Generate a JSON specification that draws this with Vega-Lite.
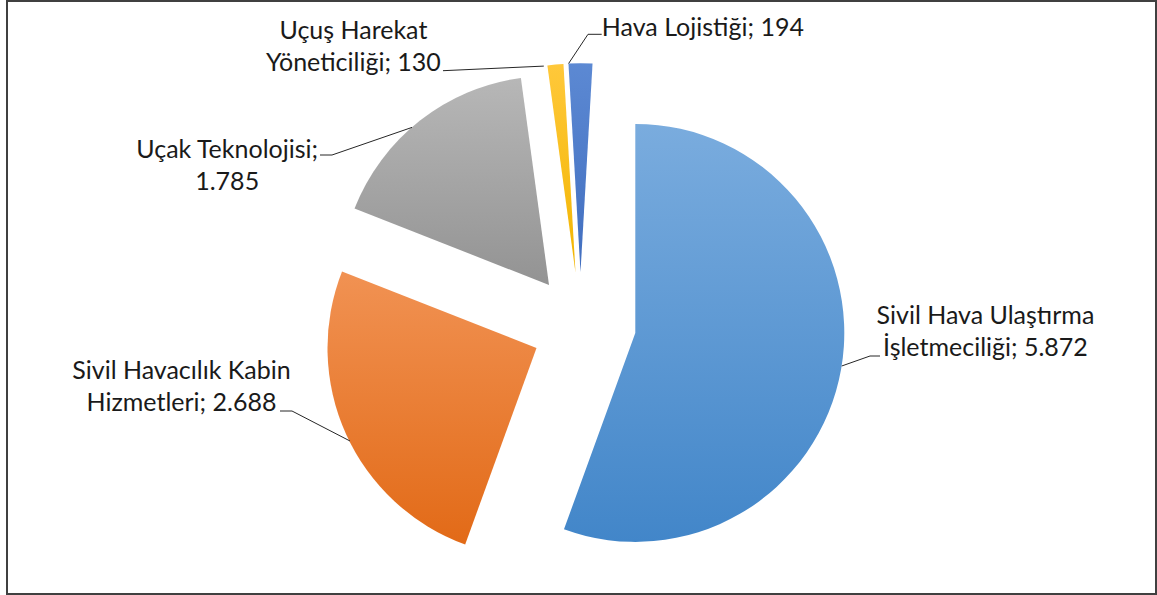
{
  "$schema": "https://vega.github.io/schema/vega-lite/v6.json",
  "width": 1157,
  "height": 595,
  "autosize": {"type": "fit", "contains": "padding"},
  "padding": {"left": 7, "top": 1, "right": 1, "bottom": 1},
  "background": "#ffffff",
  "config": {"view": {"stroke": "#404040", "strokeWidth": 2}},
  "data": {
    "values": [
      {"kategori": "Sivil Hava Ulaştırma İşletmeciliği", "deger": 5872},
      {"kategori": "Sivil Havacılık Kabin Hizmetleri", "deger": 2688},
      {"kategori": "Uçak Teknolojisi", "deger": 1785},
      {"kategori": "Uçuş Harekat Yöneticiliği", "deger": 130},
      {"kategori": "Hava Lojistiği", "deger": 194}
    ]
  },
  "transform": [
    {"stack": "deger", "groupby": [], "as": ["bas", "son"]},
    {"calculate": "(datum.bas + datum.son) / 2", "as": "orta"},
    {"calculate": "datum.kategori + '; ' + replace(format(datum.deger, ','), ',', '.')", "as": "etiket"}
  ],
  "layer": [
    {
      "transform": [{"filter": "datum.kategori === 'Sivil Hava Ulaştırma İşletmeciliği'"}],
      "layer": [
        {
          "mark": {"type": "arc", "radius": 209, "xOffset": 53.8, "yOffset": 35.4,
            "fill": {"gradient": "linear", "x1": 0, "y1": 0, "x2": 0, "y2": 1,
              "stops": [{"offset": 0, "color": "#7AACDE"}, {"offset": 1, "color": "#4286C9"}]}},
          "encoding": {
            "theta": {"field": "bas", "type": "quantitative", "stack": null},
            "theta2": {"field": "son"}
          }
        },
        {
          "transform": [{"calculate": "[join(slice(split(datum.etiket, ' '), 0, 3), ' '), join(slice(split(datum.etiket, ' '), 3), ' ')]", "as": "satirlar"}],
          "mark": {"type": "text", "radius": 209, "xOffset": 53.8, "yOffset": 35.4, "dx": 144.3, "dy": -53.5,
            "font": "Lato", "fontSize": 25, "lineHeight": 32, "align": "center", "baseline": "middle", "color": "#1A1A1A"},
          "encoding": {
            "theta": {"field": "orta", "type": "quantitative", "stack": null},
            "text": {"field": "satirlar", "type": "nominal"}
          }
        },
        {
          "mark": {"type": "rule", "color": "#262626", "strokeWidth": 1},
          "encoding": {"x": {"value": 834.7}, "y": {"value": 365}, "x2": {"value": 863}, "y2": {"value": 355}}
        },
        {
          "mark": {"type": "rule", "color": "#262626", "strokeWidth": 1},
          "encoding": {"x": {"value": 863}, "y": {"value": 355}, "x2": {"value": 873}, "y2": {"value": 355}}
        }
      ]
    },
    {
      "transform": [{"filter": "datum.kategori === 'Sivil Havacılık Kabin Hizmetleri'"}],
      "layer": [
        {
          "mark": {"type": "arc", "radius": 209, "xOffset": -45.0, "yOffset": 50.5,
            "fill": {"gradient": "linear", "x1": 0, "y1": 0, "x2": 0, "y2": 1,
              "stops": [{"offset": 0, "color": "#F19253"}, {"offset": 1, "color": "#E26A17"}]}},
          "encoding": {
            "theta": {"field": "bas", "type": "quantitative", "stack": null},
            "theta2": {"field": "son"}
          }
        },
        {
          "transform": [{"calculate": "[join(slice(split(datum.etiket, ' '), 0, 3), ' '), join(slice(split(datum.etiket, ' '), 3), ' ')]", "as": "satirlar"}],
          "mark": {"type": "text", "radius": 209, "xOffset": -45.0, "yOffset": 50.5, "dx": -164.5, "dy": -62.6,
            "font": "Lato", "fontSize": 25, "lineHeight": 32, "align": "center", "baseline": "middle", "color": "#1A1A1A"},
          "encoding": {
            "theta": {"field": "orta", "type": "quantitative", "stack": null},
            "text": {"field": "satirlar", "type": "nominal"}
          }
        },
        {
          "mark": {"type": "rule", "color": "#262626", "strokeWidth": 1},
          "encoding": {"x": {"value": 343}, "y": {"value": 440}, "x2": {"value": 285}, "y2": {"value": 410}}
        },
        {
          "mark": {"type": "rule", "color": "#262626", "strokeWidth": 1},
          "encoding": {"x": {"value": 285}, "y": {"value": 410}, "x2": {"value": 273}, "y2": {"value": 410}}
        }
      ]
    },
    {
      "transform": [{"filter": "datum.kategori === 'Uçak Teknolojisi'"}],
      "layer": [
        {
          "mark": {"type": "arc", "radius": 209, "xOffset": -32.5, "yOffset": -12.5,
            "fill": {"gradient": "linear", "x1": 0, "y1": 0, "x2": 0, "y2": 1,
              "stops": [{"offset": 0, "color": "#B7B7B7"}, {"offset": 1, "color": "#939393"}]}},
          "encoding": {
            "theta": {"field": "bas", "type": "quantitative", "stack": null},
            "theta2": {"field": "son"}
          }
        },
        {
          "transform": [{"calculate": "[join(slice(split(datum.etiket, ' '), 0, 2), ' '), join(slice(split(datum.etiket, ' '), 2), ' ')]", "as": "satirlar"}],
          "mark": {"type": "text", "radius": 209, "xOffset": -32.5, "yOffset": -12.5, "dx": -192.8, "dy": 29.5,
            "font": "Lato", "fontSize": 25, "lineHeight": 32, "align": "center", "baseline": "middle", "color": "#1A1A1A"},
          "encoding": {
            "theta": {"field": "orta", "type": "quantitative", "stack": null},
            "text": {"field": "satirlar", "type": "nominal"}
          }
        },
        {
          "mark": {"type": "rule", "color": "#262626", "strokeWidth": 1},
          "encoding": {"x": {"value": 405}, "y": {"value": 126.4}, "x2": {"value": 325}, "y2": {"value": 154}}
        },
        {
          "mark": {"type": "rule", "color": "#262626", "strokeWidth": 1},
          "encoding": {"x": {"value": 325}, "y": {"value": 154}, "x2": {"value": 313}, "y2": {"value": 154}}
        }
      ]
    },
    {
      "transform": [{"filter": "datum.kategori === 'Uçuş Harekat Yöneticiliği'"}],
      "layer": [
        {
          "mark": {"type": "arc", "radius": 209, "xOffset": -6.0, "yOffset": -24.8,
            "fill": {"gradient": "linear", "x1": 0, "y1": 0, "x2": 0, "y2": 1,
              "stops": [{"offset": 0, "color": "#FFC83A"}, {"offset": 1, "color": "#F2B500"}]}},
          "encoding": {
            "theta": {"field": "bas", "type": "quantitative", "stack": null},
            "theta2": {"field": "son"}
          }
        },
        {
          "transform": [{"calculate": "[join(slice(split(datum.etiket, ' '), 0, 2), ' '), join(slice(split(datum.etiket, ' '), 2), ' ')]", "as": "satirlar"}],
          "mark": {"type": "text", "radius": 209, "xOffset": -6.0, "yOffset": -24.8, "dx": -202, "dy": -33.8,
            "font": "Lato", "fontSize": 25, "lineHeight": 32, "align": "center", "baseline": "middle", "color": "#1A1A1A"},
          "encoding": {
            "theta": {"field": "orta", "type": "quantitative", "stack": null},
            "text": {"field": "satirlar", "type": "nominal"}
          }
        },
        {
          "mark": {"type": "rule", "color": "#262626", "strokeWidth": 1},
          "encoding": {"x": {"value": 536.8}, "y": {"value": 65.1}, "x2": {"value": 436}, "y2": {"value": 69.7}}
        }
      ]
    },
    {
      "transform": [{"filter": "datum.kategori === 'Hava Lojistiği'"}],
      "layer": [
        {
          "mark": {"type": "arc", "radius": 209, "xOffset": -1.0, "yOffset": -25.3,
            "fill": {"gradient": "linear", "x1": 0, "y1": 0, "x2": 0, "y2": 1,
              "stops": [{"offset": 0, "color": "#5C89D3"}, {"offset": 1, "color": "#416EBF"}]}},
          "encoding": {
            "theta": {"field": "bas", "type": "quantitative", "stack": null},
            "theta2": {"field": "son"}
          }
        },
        {
          "mark": {"type": "text", "radius": 209, "xOffset": -1.0, "yOffset": -25.3, "dx": 122.4, "dy": -35.5,
            "font": "Lato", "fontSize": 25, "align": "center", "baseline": "middle", "color": "#1A1A1A"},
          "encoding": {
            "theta": {"field": "orta", "type": "quantitative", "stack": null},
            "text": {"field": "etiket", "type": "nominal"}
          }
        },
        {
          "mark": {"type": "rule", "color": "#262626", "strokeWidth": 1},
          "encoding": {"x": {"value": 561.6}, "y": {"value": 62.5}, "x2": {"value": 581}, "y2": {"value": 33.3}}
        },
        {
          "mark": {"type": "rule", "color": "#262626", "strokeWidth": 1},
          "encoding": {"x": {"value": 581}, "y": {"value": 33.3}, "x2": {"value": 594.7}, "y2": {"value": 33.3}}
        }
      ]
    }
  ]
}
